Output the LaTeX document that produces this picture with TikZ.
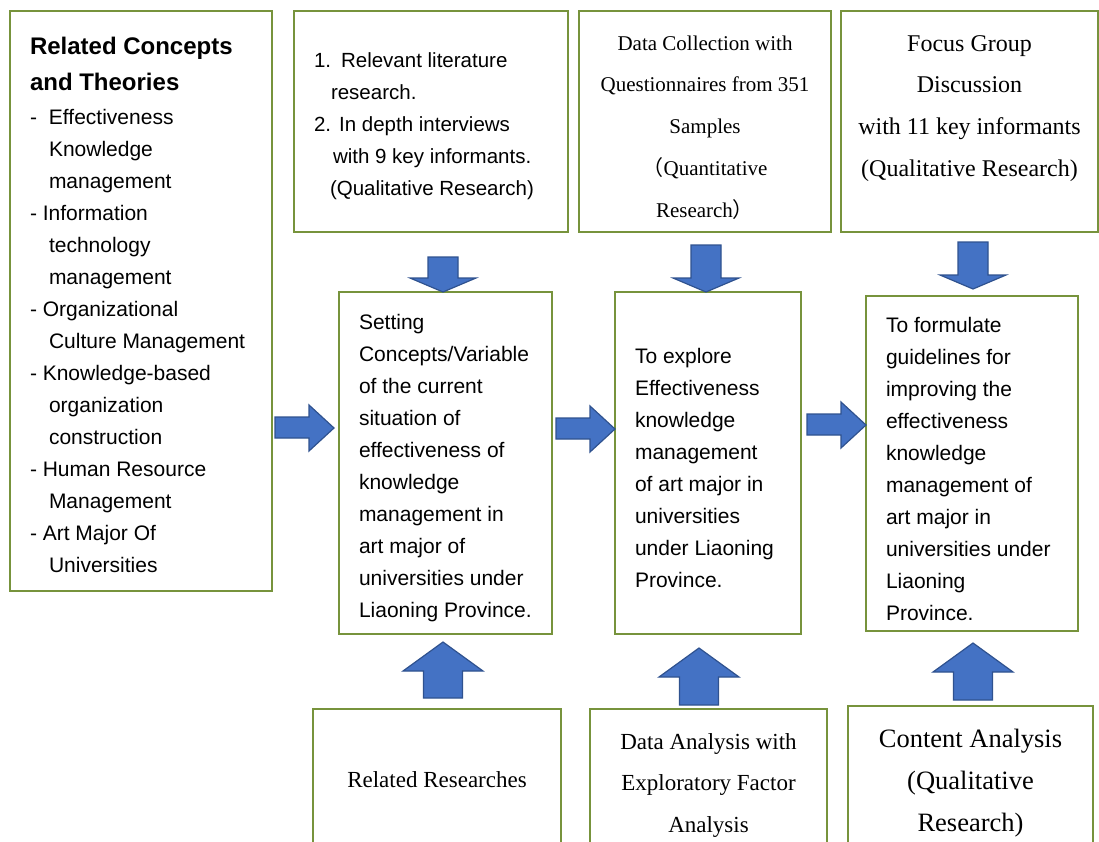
\documentclass[tikz,border=0pt]{standalone}
\usepackage{fontspec}
\setmainfont{Liberation Serif}
\newfontfamily\arial{Liberation Sans}
\newfontfamily\cjk{Noto Sans CJK SC}
\definecolor{boxgreen}{HTML}{77933C}
\definecolor{arrblue}{HTML}{4472C4}
\definecolor{arredge}{HTML}{2F528F}
% lines may run past the right margin instead of wrapping
\newcommand{\keepline}{\rightskip=0pt plus 1fil minus 100pt\relax}
% taller first line, pushes the text block down a little
\newcommand{\toppad}[1]{\rule{0pt}{#1}}
\tikzstyle{boxg}=[draw=boxgreen,line width=1.3pt,rectangle,inner xsep=20pt,inner ysep=0pt]
\tikzstyle{sanstxt}=[font=\arial\fontsize{21}{32}\selectfont,align=flush left]
\tikzstyle{seriftxt}=[inner xsep=10pt,align=flush center]
\tikzstyle{blockarr}=[fill=arrblue,draw=arredge,line width=1.2pt,line join=miter]

\begin{document}
\begin{tikzpicture}[x=1pt,y=-1pt]
    \useasboundingbox (0,0) rectangle (1099,841);
    \clip (0,0) rectangle (1099,841);
    % theory box on the left
    \node[boxg,sanstxt,line width=2.2pt,minimum width=262,minimum height=580,text width=222] (concepts) at (141,301)
      {\keepline
       {\bfseries\fontsize{24}{36}\selectfont\toppad{25.5pt}Related Concepts\\and Theories\par}\vspace{2pt}
       -\hspace*{12pt}Effectiveness\\ \hspace*{19pt}Knowledge\\ \hspace*{19pt}management\\
       - Information\\ \hspace*{19pt}technology\\ \hspace*{19pt}management\\
       - Organizational\\ \hspace*{19pt}Culture Management\\
       - Knowledge-based\\ \hspace*{19pt}organization\\ \hspace*{19pt}construction\\
       - Human Resource\\ \hspace*{19pt}Management\\
       - Art Major Of\\ \hspace*{19pt}Universities};
    % top row
    \node[boxg,sanstxt,font=\arial\fontsize{20.5}{32}\selectfont,minimum width=274,minimum height=221,text width=234] (literature) at (431,121.5)
      {\keepline\toppad{25pt}1.\hspace{10pt}Relevant literature\\ \hspace*{17pt}research.\\ 2.\hspace{8pt}In depth interviews\\ \hspace*{19pt}with 9 key informants.\\ \hspace*{16pt}(Qualitative Research)};
    \node[boxg,seriftxt,font=\fontsize{21}{41.75}\selectfont,minimum width=252,minimum height=221,text width=232] (collection) at (705,121.5)
      {\toppad{26.5pt}Data Collection with\\Questionnaires from 351\\Samples\\{\cjk（}Quantitative\\Research{\cjk）}};
    \node[boxg,seriftxt,font=\fontsize{24}{41.67}\selectfont,minimum width=257,minimum height=221,text width=237] (focus) at (969.5,121.5)
      {Focus Group\\Discussion\\with 11 key informants\\(Qualitative Research)\\[-10pt]\mbox{}};
    % middle row
    \node[boxg,sanstxt,minimum width=213,minimum height=342,text width=173] (situation) at (445.5,463)
      {\keepline\toppad{24.5pt}Setting\\Concepts/Variable\\of the current\\situation of\\effectiveness of\\knowledge\\management in\\art major of\\universities under\\Liaoning Province.};
    \node[boxg,sanstxt,minimum width=186,minimum height=342,text width=146] (explore) at (708,463)
      {\keepline\toppad{24.5pt}To explore\\Effectiveness\\knowledge\\management\\of art major in\\universities\\under Liaoning\\Province.};
    \node[boxg,sanstxt,minimum width=212,minimum height=335,text width=172] (guidelines) at (972,463.5)
      {\keepline\toppad{25.5pt}To formulate\\guidelines for\\improving the\\effectiveness\\knowledge\\management of\\art major in\\universities under\\Liaoning\\Province.};
    % bottom row
    \node[boxg,seriftxt,font=\fontsize{23}{41.5}\selectfont,minimum width=248,minimum height=142,text width=228] (researches) at (437,780)
      {Related Researches};
    \node[boxg,seriftxt,font=\fontsize{23}{41.5}\selectfont,minimum width=237,minimum height=152,text width=217] (efa) at (708.5,785)
      {Data Analysis with\\Exploratory Factor\\Analysis};
    \node[boxg,seriftxt,font=\fontsize{26.5}{42}\selectfont,minimum width=245,minimum height=154,text width=225] (content) at (970.5,783)
      {Content Analysis\\(Qualitative\\Research)};
    % block arrows
    \foreach \tx/\ty in {334/428,615/429,866/425}
    \draw[blockarr] (\tx,\ty) -- ++(-25,-23) -- ++(0,12) -- ++(-34,0) -- ++(0,21) -- ++(34,0) -- ++(0,13) -- cycle;
    \foreach \tx/\ty/\len in {443/292/35,706/292/47,973/289/47}
    \draw[blockarr] (\tx,\ty) -- ++(-33,-14) -- ++(18,0) -- ++(0,-\len+14) -- ++(30,0) -- ++(0,\len-14) -- ++(18,0) -- cycle;
    \foreach \tx/\ty/\len in {443/642/56,699/648/57,973/643/57}
    \draw[blockarr] (\tx,\ty) -- ++(-40,29) -- ++(20.5,0) -- ++(0,\len-29) -- ++(39,0) -- ++(0,-\len+29) -- ++(20.5,0) -- cycle;
\end{tikzpicture}
\end{document}
